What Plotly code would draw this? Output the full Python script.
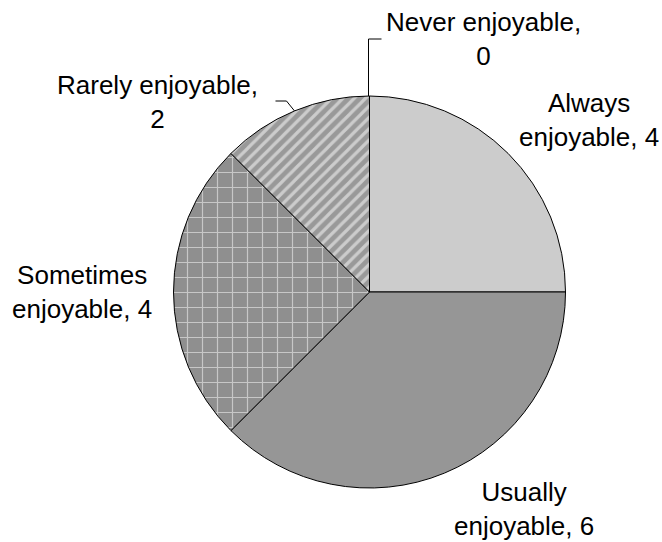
import math
import plotly.graph_objects as go

# ---- data ----
categories = ["Always enjoyable", "Usually enjoyable", "Sometimes enjoyable",
              "Rarely enjoyable", "Never enjoyable"]
label_lines = [["Always", "enjoyable, "], ["Usually", "enjoyable, "],
               ["Sometimes", "enjoyable, "], ["Rarely enjoyable,", ""],
               ["Never enjoyable,", ""]]
values = [4, 6, 4, 2, 0]

# ---- styling / layout ----
W, H = 662, 542
CX, CY, R = 369.5, 292.0, 196.0          # pie centre / radius in window px
FONT = "Liberation Sans, Arial, sans-serif"
FS = 26

fills = ["#cccccc", "#969696", "#8f8f8f", "#999999", "#ffffff"]
shapes_pat = ["", "", "+", "/", ""]
pat_fg = ["#000000", "#000000", "#ffffff", "#ffffff", "#000000"]
pat_size = [8, 8, 15, 8, 8]
pat_sol = [0.2, 0.2, 0.15, 0.4, 0.2]

# label block centres (window px)
label_pos = [(589, 120), (524, 509), (82, 292), (157, 102), (483, 39)]


def px(x):
    return x / W


def py(y):
    return 1 - y / H


fig = go.Figure(go.Pie(
    labels=categories,
    values=values,
    sort=False,
    direction="clockwise",
    rotation=0,
    textinfo="none",
    hoverinfo="label+value",
    showlegend=False,
    domain=dict(x=[px(CX - R), px(CX + R)], y=[py(CY + R), py(CY - R)]),
    marker=dict(
        colors=fills,
        line=dict(color="#000000", width=1),
        pattern=dict(shape=shapes_pat, fgcolor=pat_fg, bgcolor=fills,
                     size=pat_size, solidity=pat_sol, fillmode="overlay"),
    ),
))

annotations = []
for cat, lines, v, (lx, ly) in zip(categories, label_lines, values, label_pos):
    if lines[1]:
        text = f"{lines[0]}<br>{lines[1]}{v}"
    else:
        text = f"{lines[0]}<br>{v}"
    annotations.append(dict(
        x=px(lx), y=py(ly), xref="paper", yref="paper",
        text=text, showarrow=False, xanchor="center", yanchor="middle",
        align="center", font=dict(family=FONT, size=FS, color="#000000"),
    ))

# leader lines computed from the pie geometry
total = sum(values)
cum = 0
mids = []
for v in values:
    mids.append((cum + v / 2) / total * 2 * math.pi)
    cum += v


def edge(a):
    return CX + R * math.sin(a), CY - R * math.cos(a)


shapes = []
# Rarely enjoyable
ex, ey = edge(mids[3])
shapes.append(dict(type="path", xref="paper", yref="paper",
                   path=f"M {px(ex - 19)},{py(101)} L {px(ex - 8)},{py(101)} L {px(ex)},{py(ey)}",
                   line=dict(color="#000000", width=1)))
# Never enjoyable
ex, ey = edge(mids[4])
shapes.append(dict(type="path", xref="paper", yref="paper",
                   path=f"M {px(ex + 12)},{py(39)} L {px(ex - 1)},{py(39)} L {px(ex - 1)},{py(ey)}",
                   line=dict(color="#000000", width=1)))

fig.update_layout(
    width=W, height=H,
    margin=dict(l=0, r=0, t=0, b=0),
    paper_bgcolor="#ffffff",
    plot_bgcolor="#ffffff",
    annotations=annotations,
    shapes=shapes,
)

fig.write_html(
    "out.html",
    config={"displayModeBar": False},
    post_script="document.body.style.margin='0';document.body.style.overflow='hidden';",
)
